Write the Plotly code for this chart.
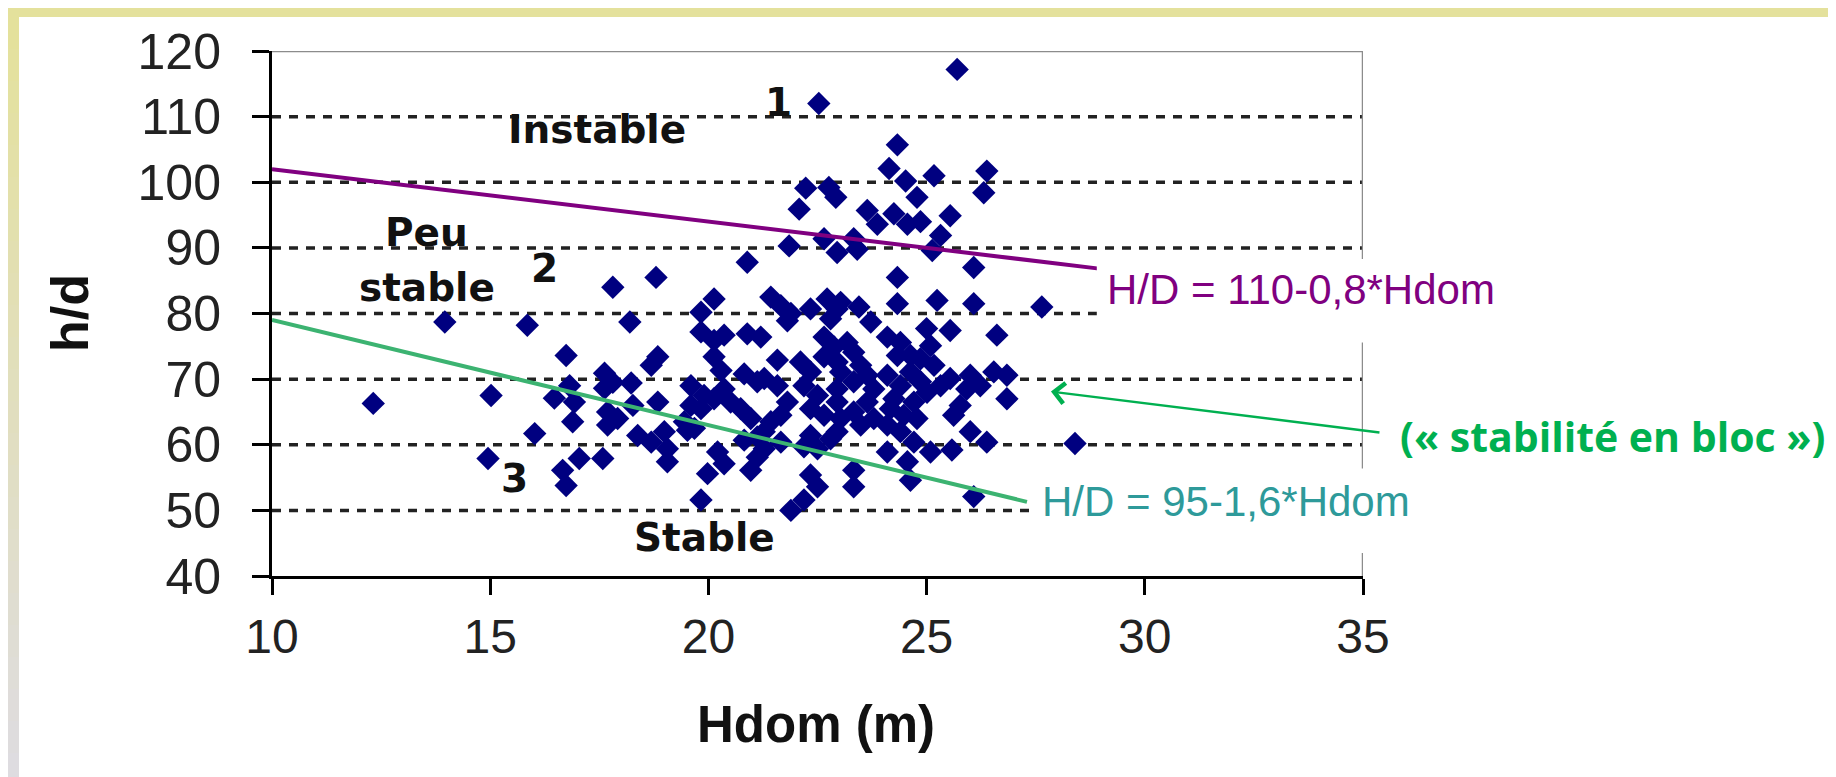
import plotly.graph_objects as go

# ---------------- data ----------------
hdom = [
    # left part
    13.96, 15.85, 17.81, 18.20, 16.74, 12.32, 15.02, 17.62, 17.81, 17.62,
    16.47, 16.82, 16.93, 16.89, 17.69, 17.92, 17.69, 18.23, 18.27, 16.02,
    14.95, 17.04, 17.58, 16.66, 16.74,
    # upper part
    25.70, 22.53, 24.33, 24.14, 24.52, 25.17, 26.38, 26.31, 24.78, 22.23,
    22.76, 22.92, 22.08, 23.64, 23.87, 24.25, 24.56, 24.86, 25.54, 25.32,
    25.13, 22.65, 22.95, 23.33, 23.41, 21.85, 20.89, 26.08, 18.80, 24.33,
    # middle-left cluster
    20.13, 19.83, 21.43, 21.66, 21.89, 21.81, 22.34, 22.72, 22.95, 22.80,
    19.83, 20.13, 20.36, 20.89, 21.20, 22.65, 18.84, 18.69, 20.13, 20.29,
    21.58, 22.11, 22.34, 22.88, 22.65, 22.95, 19.60, 20.82, 21.12, 21.28,
    21.58, 20.36, 20.51, 20.13, 19.90, 19.83, 19.60, 18.84, 20.74, 20.97,
    21.81, 21.66, 21.43, 22.19, 22.50, 22.34, 22.65, 22.95, 18.38, 18.69,
    18.99, 19.06, 19.45, 19.68, 21.28, 21.66, 21.28, 22.34, 22.50, 22.80,
    20.21,
    # middle-right cluster
    24.33, 25.24, 26.08, 27.64, 23.45, 23.03, 23.72, 25.54, 26.61, 25.00,
    25.09, 24.86, 25.17, 23.18, 23.33, 24.10, 24.40, 24.33, 24.63, 24.63,
    23.49, 23.64, 23.33, 23.79, 23.03, 22.95, 24.10, 24.40, 24.25, 24.86,
    25.01, 25.32, 25.54, 26.00, 26.23, 26.54, 26.84, 26.84, 25.92, 25.77,
    25.62, 24.71, 24.48, 24.17, 23.64, 23.33, 23.79, 23.49, 23.03, 22.95,
    24.10, 24.40, 24.78, 26.00, 26.38, 24.71, 24.10, 25.09, 25.58, 28.40,
    # lower part
    19.52, 19.06, 19.98, 20.36, 19.83, 20.97, 21.12, 20.82, 21.12, 22.19,
    22.34, 22.50, 22.19, 21.89, 23.33, 23.33, 24.56, 24.63, 26.08,
]
hd = [
    78.7, 78.2, 84.0, 78.7, 73.6, 66.3, 67.5, 70.9, 69.5, 68.6,
    67.1, 69.0, 66.5, 63.5, 65.0, 64.0, 63.0, 69.4, 66.0, 61.7,
    57.9, 57.9, 57.9, 56.1, 53.8,
    117.2, 112.0, 105.7, 102.1, 100.2, 101.0, 101.7, 98.4, 97.7, 99.1,
    99.2, 97.7, 95.9, 95.7, 93.6, 95.2, 93.6, 94.0, 94.9, 91.9,
    89.6, 91.4, 89.3, 91.4, 89.8, 90.3, 87.8, 87.0, 85.5, 85.5,
    82.2, 80.2, 82.5, 81.2, 80.0, 78.9, 80.7, 82.2, 80.7, 79.2,
    77.2, 75.9, 76.7, 76.9, 76.4, 76.4, 73.4, 72.1, 73.4, 71.3,
    72.9, 72.6, 71.1, 74.9, 73.4, 72.6, 69.0, 70.8, 69.6, 70.1,
    69.0, 68.5, 66.5, 67.0, 67.5, 65.5, 66.0, 66.5, 65.5, 64.0,
    66.5, 64.5, 63.5, 69.0, 67.5, 65.5, 64.5, 66.5, 61.4, 60.4,
    62.0, 59.4, 63.5, 62.5, 62.0, 60.4, 59.4, 61.4, 59.4, 60.9,
    58.9,
    81.5, 82.0, 81.5, 81.0, 81.0, 81.7, 78.7, 77.4, 76.7, 77.7,
    75.1, 73.1, 72.1, 75.6, 74.1, 76.4, 75.6, 73.6, 73.6, 71.1,
    72.1, 70.6, 69.6, 68.5, 71.1, 68.5, 70.6, 69.0, 67.0, 69.6,
    68.0, 69.0, 70.1, 70.6, 69.0, 71.1, 70.6, 67.0, 68.5, 66.0,
    64.5, 66.5, 64.5, 65.5, 66.5, 65.0, 64.0, 63.0, 64.0, 62.0,
    63.0, 62.0, 64.0, 62.0, 60.4, 60.4, 58.9, 58.9, 59.2, 60.2,
    62.2, 57.4, 55.6, 57.1, 51.6, 56.1, 58.1, 60.7, 61.2, 59.7,
    55.4, 53.6, 51.6, 50.0, 56.1, 53.6, 57.4, 54.6, 52.1,
]

# threshold lines  H/D = 110 - 0.8*Hdom  and  H/D = 95 - 1.6*Hdom
instable_x = [10.0, 29.0]
instable_y = [102.0, 86.8]
stable_x = [10.0, 27.3]
stable_y = [79.0, 51.3]

x_ticks = [10, 15, 20, 25, 30, 35]
y_ticks = [40, 50, 60, 70, 80, 90, 100, 110, 120]
grid_levels = [50, 60, 70, 80, 90, 100, 110]

# ---------------- figure geometry ----------------
W, H = 1836, 777
L, R, T, B = 264, 1355, 43, 568  # plot-area pixel box
X0, X1, Y0, Y1 = 10, 35, 40, 120


def px(xp):
    return (xp - L) / (R - L)


def py(yp):
    return (B - yp) / (B - T)


def dx(xd):  # data x -> paper
    return (xd - X0) / (X1 - X0)


def dy(yd):  # data y -> paper
    return (yd - Y0) / (Y1 - Y0)


fig = go.Figure()
fig.add_trace(go.Scatter(
    x=hdom, y=hd, mode="markers",
    marker=dict(symbol="diamond", size=18, color="#000080", line=dict(width=0)),
    hoverinfo="x+y"))
fig.add_trace(go.Scatter(
    x=instable_x, y=instable_y, mode="lines",
    line=dict(color="#800080", width=4)))
fig.add_trace(go.Scatter(
    x=stable_x, y=stable_y, mode="lines",
    line=dict(color="#3CB371", width=4)))

shapes = []
for g in grid_levels:
    shapes.append(dict(type="line", xref="x", yref="y", x0=10, x1=35, y0=g, y1=g,
                       line=dict(color="#222222", width=3.5, dash="9px,8px"), layer="below"))
# top and right border (grey)
shapes.append(dict(type="line", xref="x", yref="y", x0=10, x1=35, y0=120, y1=120,
                   line=dict(color="#8c8c8c", width=2.5), layer="above"))
shapes.append(dict(type="line", xref="x", yref="y", x0=35, x1=35, y0=40, y1=120,
                   line=dict(color="#8c8c8c", width=2.5), layer="above"))
# white label boxes (hide grid / border behind the equation labels)
shapes.append(dict(type="rect", xref="paper", yref="paper", x0=dx(28.9), x1=px(1560),
                   y0=dy(75.6), y1=dy(88.3), fillcolor="white", line=dict(width=0), layer="above"))
shapes.append(dict(type="rect", xref="paper", yref="paper", x0=dx(27.35), x1=px(1440),
                   y0=dy(43.5), y1=dy(56.4), fillcolor="white", line=dict(width=0), layer="above"))
# decorative frame bands
shapes.append(dict(type="rect", xref="paper", yref="paper", x0=px(0), x1=px(W), y0=py(9), y1=py(0),
                   fillcolor="#E4E19C", line=dict(width=0), layer="below"))
nseg = 24
c0 = (0xE4, 0xE1, 0x9C)
c1 = (0xDE, 0xDC, 0xE0)
for i in range(nseg):
    t = i / (nseg - 1)
    c = tuple(int(round(c0[k] + (c1[k] - c0[k]) * t)) for k in range(3))
    y0p = 9 + (H - 9) * i / nseg
    y1p = 9 + (H - 9) * (i + 1) / nseg
    shapes.append(dict(type="rect", xref="paper", yref="paper", x0=px(0), x1=px(11),
                       y0=py(y1p), y1=py(y0p), fillcolor="rgb(%d,%d,%d)" % c,
                       line=dict(width=0), layer="below"))

lab_font = dict(family="DejaVu Sans", size=39, color="#111111")
annotations = [
    dict(x=17.45, y=108.0, text="<b>Instable</b>"),
    dict(x=21.6, y=112.2, text="<b>1</b>"),
    dict(x=13.55, y=92.4, text="<b>Peu</b>"),
    dict(x=13.55, y=83.9, text="<b>stable</b>"),
    dict(x=16.25, y=86.8, text="<b>2</b>"),
    dict(x=15.55, y=54.8, text="<b>3</b>"),
    dict(x=19.9, y=45.9, text="<b>Stable</b>"),
]
for a in annotations:
    a.update(xref="x", yref="y", showarrow=False, font=lab_font, xanchor="center", yanchor="middle")

annotations += [
    dict(x=29.1, y=83.6, xref="x", yref="y", text="H/D = 110-0,8*Hdom", showarrow=False,
         xanchor="left", yanchor="middle", borderpad=0,
         font=dict(family="Liberation Sans", size=42, color="#800080")),
    dict(x=27.62, y=51.4, xref="x", yref="y", text="H/D = 95-1,6*Hdom", showarrow=False,
         xanchor="left", yanchor="middle", borderpad=0,
         font=dict(family="Liberation Sans", size=42, color="#2E9A9A")),
    dict(x=27.85, y=68.1, xref="x", yref="y", ax=330, ay=41, text="", showarrow=True,
         arrowhead=4, arrowsize=1.6, arrowwidth=2.5, arrowcolor="#00B050", standoff=0),
    dict(x=px(1604), y=py(428), xref="paper", yref="paper", text="<b>(« stabilité en bloc »)</b>",
         showarrow=False, xanchor="center", yanchor="middle",
         font=dict(family="Open Sans", size=41, color="#00B050")),
    dict(x=px(808), y=py(716), xref="paper", yref="paper", text="<b>Hdom (m)</b>",
         showarrow=False, xanchor="center", yanchor="middle",
         font=dict(family="Liberation Sans", size=51, color="#111111")),
    dict(x=px(62), y=py(305), xref="paper", yref="paper", text="<b>h/d</b>", textangle=-90,
         showarrow=False, xanchor="center", yanchor="middle",
         font=dict(family="Liberation Sans", size=52, color="#111111")),
]

fig.update_layout(
    width=W, height=H, autosize=False,
    margin=dict(l=L, r=W - R, t=T, b=H - B, pad=0),
    paper_bgcolor="white", plot_bgcolor="white", showlegend=False,
    xaxis=dict(range=[X0, X1], tickvals=x_ticks, showgrid=False, zeroline=False,
               showline=True, linecolor="black", linewidth=3, ticks="outside",
               ticklen=16, tickwidth=3, tickcolor="black",
               tickfont=dict(family="Liberation Sans", size=48, color="#222222"),
               ticklabelstandoff=0, fixedrange=True),
    yaxis=dict(range=[Y0, Y1], tickvals=y_ticks, showgrid=False, zeroline=False,
               showline=True, linecolor="black", linewidth=3, ticks="outside",
               ticklen=17, tickwidth=3, tickcolor="black",
               tickfont=dict(family="Liberation Sans", size=50, color="#222222"),
               ticklabelstandoff=21, fixedrange=True),
    shapes=shapes, annotations=annotations,
)

fig.write_html("out.html")
